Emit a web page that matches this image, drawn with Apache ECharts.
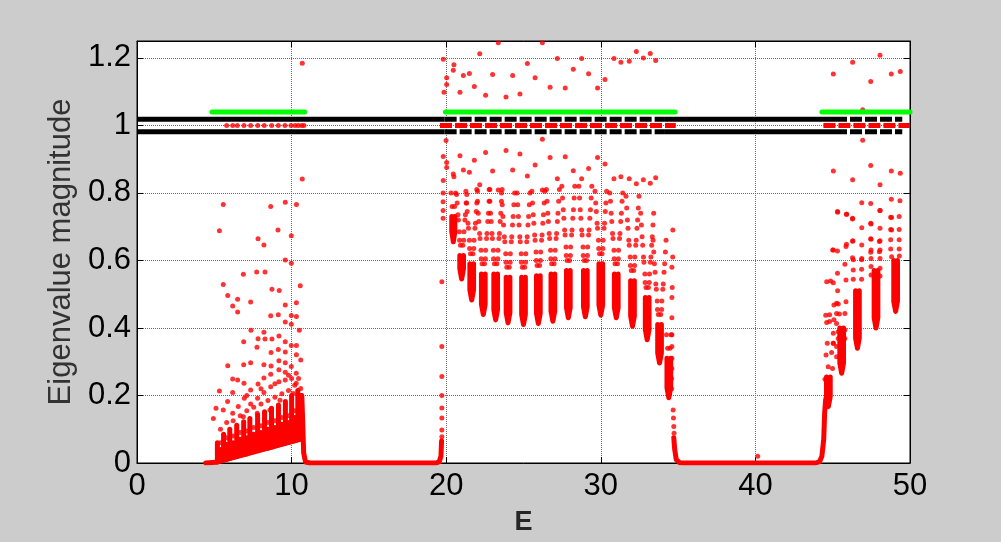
<!DOCTYPE html>
<html>
<head>
<meta charset="utf-8">
<script src="https://cdn.jsdelivr.net/npm/echarts@6/dist/echarts.min.js"></script>
<style>
html,body{margin:0;padding:0;background:#cccccc;}
#chart{width:1001px;height:542px;}
</style>
</head>
<body>
<div id="chart"></div>
<script>
// ---------- axes ----------
const xTickValues = [0, 10, 20, 30, 40, 50];
const yTickValues = [0, 0.2, 0.4, 0.6, 0.8, 1, 1.2];
const xAxisTitle = 'E';
const yAxisTitle = 'Eigenvalue magnitude';

// ---------- reference levels ----------
const greenLevel = 1.04;
const greenSegments = [[4.85, 10.85], [19.95, 34.8], [44.3, 50]];
const blackLevels = [1.018, 0.981];
const blackSolidSegments = [[0, 19.9], [34.15, 45.15]];
const blackDashedSegments = [[19.9, 34.15], [45.15, 49.5]];
const unitLevel = 1.0;
const unitDashedSegments = [[19.6, 34.85], [44.4, 50]];
const unitDotsBand1 = [5.8, 6.19, 6.49, 6.92, 7.35, 7.81, 8.23, 8.71, 9.14, 9.57, 9.96, 10.22, 10.43, 10.65, 10.8];

// ---------- isolated eigenvalue magnitudes [E, |lambda|] ----------
const band1Points = [
 [5.58,0.766],[5.33,0.688],[8.65,0.76],[9.59,0.772],[10.31,0.766],[9.12,0.69],[7.83,0.664],[8.21,0.646],
 [9.98,0.673],[9.59,0.601],[9.98,0.592],[6.88,0.559],[7.74,0.566],[8.28,0.566],[5.58,0.529],[5.87,0.496],
 [6.19,0.465],[6.51,0.485],[6.51,0.447],[7.35,0.477],[8.73,0.515],[9.2,0.511],[8.65,0.436],[9.14,0.439],
 [9.59,0.468],[10.31,0.475],[10.56,0.525],[9.98,0.437],[10.31,0.434],[9.59,0.418],[9.98,0.411],[10.5,0.393],
 [7.37,0.393],[8.21,0.387],[7.83,0.368],[9.18,0.376],[6.9,0.359],[7.76,0.343],[8.28,0.367],[8.73,0.367],
 [9.59,0.359],[9.98,0.348],[10.31,0.348],[10.31,0.321],[8.67,0.327],[9.14,0.336],[9.59,0.329],[10.59,0.305],
 [5.87,0.288],[6.9,0.291],[7.35,0.297],[8.21,0.291],[8.67,0.287],[9.18,0.303],[9.59,0.297],[5.33,0.213],
 [6.19,0.249],[6.51,0.246],[6.92,0.236],[7.35,0.216],[7.83,0.234],[8.21,0.252],[8.65,0.263],[9.18,0.276],
 [9.59,0.269],[4.94,0.132],[5.11,0.162],[5.86,0.182],[6.19,0.209],[6.55,0.167],[6.94,0.192],[7.35,0.175],
 [7.8,0.192],[8.21,0.209],[8.65,0.226],[9.18,0.241],[9.59,0.246],[9.98,0.286],[10.3,0.266],[10.3,0.236],
 [10.59,0.221],[5.58,0.157],[6.19,0.147],[6.88,0.137],[7.78,0.147],[8.6,0.157],[9.25,0.186],[10.11,0.206],
 [10.0,0.25],[10.45,0.25],[10.69,1.184],[10.69,0.841],
 [5.4,0.1],[5.8,0.12],[6.22,0.125],[6.68,0.14],[7.1,0.155],[7.55,0.165],[8.02,0.175],[8.47,0.185],
 [8.92,0.195],[9.37,0.205],[9.8,0.215],[10.2,0.23],[7.1,0.2],[8.02,0.22],[8.92,0.235],[9.8,0.26],
 [5.4,0.06],[5.8,0.075],[6.22,0.08],[6.68,0.09],[7.1,0.095],[7.55,0.105],[8.02,0.11],[8.47,0.12],
 [8.92,0.125],[9.37,0.135],[9.8,0.14],[10.2,0.155]
];

const band2Points = [
 // above the unit circle
 [19.81,1.196],[23.37,1.245],[26.22,1.245],[22.17,1.212],[20.5,1.18],[20.46,1.163],[20.03,1.141],[20.03,1.121],
 [19.86,1.098],[21.11,1.148],[21.5,1.154],[20.89,1.098],[21.82,1.115],[22.55,1.089],[23.0,1.151],[23.87,1.084],
 [24.3,1.148],[24.77,1.093],[25.25,1.183],[25.75,1.141],[26.72,1.113],[27.19,1.198],[27.7,1.111],[28.22,1.166],
 [28.76,1.198],[29.21,1.153],[29.79,1.111],[30.27,1.136],[30.85,1.198],[31.3,1.187],[31.84,1.19],[32.3,1.219],
 [32.75,1.2],[33.2,1.213],[33.55,1.192],
 // just below the unit circle
 [19.99,0.955],[19.81,0.908],[20.03,0.89],[20.03,0.875],[19.81,0.837],[20.46,0.856],[20.5,0.848],[20.89,0.91],
 [21.11,0.868],[21.5,0.861],[21.82,0.897],[22.17,0.824],[22.55,0.92],[23.0,0.865],[23.37,0.809],[23.87,0.926],
 [24.3,0.868],[24.77,0.915],[25.25,0.85],[25.75,0.883],[26.22,0.959],[26.72,0.905],[27.19,0.842],[27.7,0.907],
 [28.22,0.866],[28.76,0.842],[29.21,0.872],[29.79,0.905],[30.27,0.886],[30.85,0.842],[31.3,0.848],[31.84,0.842],
 [32.3,0.827],[32.75,0.839],[33.2,0.829],[33.55,0.845],[26.22,0.809],
 // band edge at E ~ 19.7
 [19.72,0.078],[19.72,0.098],[19.72,0.133],[19.72,0.163],[19.72,0.2],[19.72,0.256],[19.72,0.345],[19.72,0.537],
 [19.8,0.725],[19.8,0.748],[19.8,0.774],[19.8,0.8],
 // lattice above the dips
 [20.38,0.76],[20.54,0.76],[20.31,0.8],[20.61,0.8],
 [20.92,0.645],[21.08,0.645],[20.85,0.685],[21.15,0.685],[20.76,0.735],[21.24,0.735],[20.67,0.795],[21.33,0.795],
 [20.865,0.66],[21.135,0.66],[20.79,0.72],[21.21,0.72],[20.71,0.77],[21.29,0.77],
 [21.57,0.62],[21.73,0.62],[21.5,0.66],[21.8,0.66],[21.41,0.71],[21.89,0.71],[21.32,0.77],[21.98,0.77],
 [21.515,0.635],[21.785,0.635],[21.44,0.695],[21.86,0.695],[21.36,0.745],[21.94,0.745],[21.275,0.805],[22.025,0.805],
 [22.32,0.59],[22.48,0.59],[22.25,0.63],[22.55,0.63],[22.16,0.68],[22.64,0.68],[22.07,0.74],[22.73,0.74],[21.98,0.81],[22.82,0.81],
 [22.265,0.605],[22.535,0.605],[22.19,0.665],[22.61,0.665],[22.11,0.715],[22.69,0.715],[22.025,0.775],[22.775,0.775],
 [23.12,0.59],[23.28,0.59],[23.05,0.63],[23.35,0.63],[22.96,0.68],[23.44,0.68],[22.87,0.74],[23.53,0.74],[22.78,0.81],[23.62,0.81],
 [23.065,0.605],[23.335,0.605],[22.99,0.665],[23.41,0.665],[22.91,0.715],[23.49,0.715],[22.825,0.775],[23.575,0.775],
 [23.92,0.58],[24.08,0.58],[23.85,0.62],[24.15,0.62],[23.76,0.67],[24.24,0.67],[23.67,0.73],[24.33,0.73],[23.58,0.8],[24.42,0.8],
 [23.865,0.595],[24.135,0.595],[23.79,0.655],[24.21,0.655],[23.71,0.705],[24.29,0.705],[23.625,0.765],[24.375,0.765],
 [24.92,0.58],[25.08,0.58],[24.85,0.62],[25.15,0.62],[24.76,0.67],[25.24,0.67],[24.67,0.73],[25.33,0.73],[24.58,0.8],[25.42,0.8],
 [24.865,0.595],[25.135,0.595],[24.79,0.655],[25.21,0.655],[24.71,0.705],[25.29,0.705],[24.625,0.765],[25.375,0.765],
 [25.88,0.585],[26.04,0.585],[25.81,0.625],[26.11,0.625],[25.72,0.675],[26.2,0.675],[25.63,0.735],[26.29,0.735],[25.54,0.805],[26.38,0.805],
 [25.825,0.6],[26.095,0.6],[25.75,0.66],[26.17,0.66],[25.67,0.71],[26.25,0.71],[25.585,0.77],[26.335,0.77],
 [26.82,0.59],[26.98,0.59],[26.75,0.63],[27.05,0.63],[26.66,0.68],[27.14,0.68],[26.57,0.74],[27.23,0.74],[26.48,0.81],[27.32,0.81],
 [26.765,0.605],[27.035,0.605],[26.69,0.665],[27.11,0.665],[26.61,0.715],[27.19,0.715],[26.525,0.775],[27.275,0.775],
 [27.82,0.6],[27.98,0.6],[27.75,0.64],[28.05,0.64],[27.66,0.69],[28.14,0.69],[27.57,0.75],[28.23,0.75],[27.48,0.82],[28.32,0.82],
 [27.765,0.615],[28.035,0.615],[27.69,0.675],[28.11,0.675],[27.61,0.725],[28.19,0.725],[27.525,0.785],[28.275,0.785],
 [28.92,0.6],[29.08,0.6],[28.85,0.64],[29.15,0.64],[28.76,0.69],[29.24,0.69],[28.67,0.75],[29.33,0.75],[28.58,0.82],[29.42,0.82],
 [28.865,0.615],[29.135,0.615],[28.79,0.675],[29.21,0.675],[28.71,0.725],[29.29,0.725],[28.625,0.785],[29.375,0.785],
 [29.92,0.62],[30.08,0.62],[29.85,0.66],[30.15,0.66],[29.76,0.71],[30.24,0.71],[29.67,0.77],[30.33,0.77],
 [29.865,0.635],[30.135,0.635],[29.79,0.695],[30.21,0.695],[29.71,0.745],[30.29,0.745],[29.625,0.805],[30.375,0.805],
 [30.92,0.59],[31.08,0.59],[30.85,0.63],[31.15,0.63],[30.76,0.68],[31.24,0.68],[30.67,0.74],[31.33,0.74],[30.58,0.8],[31.42,0.8],
 [30.865,0.605],[31.135,0.605],[30.79,0.665],[31.21,0.665],[30.71,0.715],[31.29,0.715],[30.625,0.775],[31.375,0.775],
 [31.97,0.57],[32.13,0.57],[31.9,0.61],[32.2,0.61],[31.81,0.66],[32.29,0.66],[31.72,0.72],[32.38,0.72],[31.63,0.79],[32.47,0.79],
 [31.915,0.585],[32.185,0.585],[31.84,0.645],[32.26,0.645],[31.76,0.695],[32.34,0.695],[31.675,0.755],[32.425,0.755],
 [32.92,0.52],[33.08,0.52],[32.85,0.56],[33.15,0.56],[32.76,0.61],[33.24,0.61],[32.67,0.67],[33.33,0.67],[32.58,0.74],[33.42,0.74],
 [32.865,0.535],[33.135,0.535],[32.79,0.595],[33.21,0.595],[32.71,0.645],[33.29,0.645],[32.625,0.705],[33.375,0.705],
 [33.72,0.44],[33.88,0.44],[33.65,0.48],[33.95,0.48],[33.56,0.53],[34.04,0.53],[33.47,0.59],[34.13,0.59],[33.38,0.66],[34.22,0.66],
 [33.665,0.455],[33.935,0.455],[33.59,0.515],[34.01,0.515],[33.51,0.565],[34.09,0.565],[33.425,0.625],[34.175,0.625],
 [34.32,0.34],[34.48,0.34],[34.25,0.38],[34.55,0.38],[34.6,0.43],[34.6,0.49],[34.62,0.52],[34.6,0.58],[34.65,0.61],[34.66,0.69],
 [34.58,0.22],[34.58,0.25],[34.6,0.28],[34.6,0.31],[34.6,0.345],[34.6,0.38],
 // tail down to zero
 [34.68,0.157],[34.7,0.133],[34.72,0.108],[34.74,0.088],
 // small value in the gap
 [40.15,0.02]
];

const band3Points = [
 [48.06,1.208],[46.29,1.187],[45.04,1.152],[48.79,1.152],[49.37,1.16],[47.46,1.13],[46.94,1.046],
 [46.94,0.956],[45.04,0.865],[47.46,0.881],[48.79,0.865],[49.37,0.858],[46.29,0.839],[48.06,0.824],
 [46.88,0.771],[47.46,0.769],[48.79,0.781],[49.35,0.777],[45.31,0.745],[45.89,0.737],[46.28,0.723],[48.06,0.748],
 [48.75,0.728],[49.3,0.73],[46.88,0.697],[47.46,0.71],[48.06,0.695],[45.04,0.631],[45.31,0.628],[45.89,0.648],
 [46.3,0.658],[46.88,0.646],[47.46,0.664],[48.02,0.656],[48.75,0.692],[49.3,0.692],[48.75,0.661],[49.3,0.661],
 [48.75,0.634],[49.3,0.634],[45.79,0.589],[46.28,0.608],[46.88,0.606],[47.46,0.624],[48.02,0.626],[44.86,0.539],
 [45.04,0.534],[45.31,0.562],[45.08,0.468],[44.8,0.439],[44.8,0.419],[45.25,0.473],[45.25,0.443],[45.25,0.413],
 [44.61,0.537],[45.32,0.51],[45.86,0.542],[45.36,0.471],[45.86,0.478],[44.55,0.438],[44.61,0.416],[45.08,0.424],
 [45.43,0.441],[45.79,0.443],[45.04,0.384],[45.79,0.394],[44.65,0.355],[45.04,0.355],[45.36,0.369],[45.79,0.369],
 [46.33,0.572],[46.87,0.574],[45.86,0.641],[46.29,0.657],[45.0,0.631],[45.32,0.743],[45.9,0.737],[46.29,0.725],
 [47.48,0.708],[47.48,0.663],[48.06,0.658],[48.06,0.748],[48.81,0.727],[48.81,0.69],[48.81,0.611],[49.31,0.613],
 [46.33,0.544],[46.87,0.544],[47.48,0.631],[48.06,0.631],[47.48,0.606],[48.06,0.606],[47.48,0.582],[48.06,0.577],
 [47.48,0.557],[48.06,0.554],[46.33,0.602],[46.87,0.602],
 [44.57,0.32],[44.93,0.327],[45.04,0.355],[45.36,0.389],[44.5,0.248],[44.71,0.285],[44.99,0.28],[45.25,0.315],[45.25,0.345]
];

// ---------- dense runs of eigenvalues, read as traces [E, |lambda|] ----------
const band1Traces = [
 [[4.45,0],[5.1,0.002],[10.55,0.07]],
 [[5.2,0.003],[5.2,0.06]],[[5.6,0.008],[5.6,0.085]],[[6.0,0.013],[6.0,0.1]],[[6.45,0.019],[6.45,0.112]],
 [[6.9,0.025],[6.9,0.122]],[[7.3,0.03],[7.3,0.132]],[[7.8,0.036],[7.8,0.142]],[[8.25,0.042],[8.25,0.152]],
 [[8.7,0.047],[8.7,0.162]],[[9.15,0.053],[9.15,0.172]],[[9.6,0.059],[9.6,0.182]],[[10.0,0.064],[10.0,0.2]],
 [[10.4,0.069],[10.4,0.215]],[[10.6,0.07],[10.6,0.2]],
 [[5.4,0.006],[5.4,0.04]],[[5.8,0.011],[5.8,0.055]],[[6.22,0.016],[6.22,0.06]],[[6.68,0.022],[6.68,0.07]],
 [[7.1,0.027],[7.1,0.075]],[[7.55,0.033],[7.55,0.085]],[[8.02,0.039],[8.02,0.09]],[[8.47,0.044],[8.47,0.1]],
 [[8.92,0.05],[8.92,0.105]],[[9.37,0.056],[9.37,0.115]],[[9.8,0.061],[9.8,0.12]],[[10.2,0.066],[10.2,0.135]],
 [[10.66,0.2],[10.72,0.12],[10.78,0.03],[10.9,0.003],[11.2,0],[19.35,0],[19.55,0.004],[19.66,0.02],[19.7,0.065]]
];
const band2Traces = [
 [[20.36,0.73],[20.36,0.685],[20.46,0.655],[20.56,0.685],[20.56,0.73]],
 [[20.88,0.615],[20.88,0.575],[21.0,0.545],[21.12,0.575],[21.12,0.615]],
 [[21.53,0.59],[21.53,0.513],[21.65,0.483],[21.77,0.513],[21.77,0.59]],
 [[22.28,0.56],[22.28,0.47],[22.4,0.44],[22.52,0.47],[22.52,0.56]],
 [[23.08,0.56],[23.08,0.454],[23.2,0.424],[23.32,0.454],[23.32,0.56]],
 [[23.88,0.55],[23.88,0.445],[24.0,0.415],[24.12,0.445],[24.12,0.55]],
 [[24.88,0.55],[24.88,0.44],[25.0,0.41],[25.12,0.44],[25.12,0.55]],
 [[25.84,0.555],[25.84,0.443],[25.96,0.413],[26.08,0.443],[26.08,0.555]],
 [[26.78,0.56],[26.78,0.45],[26.9,0.42],[27.02,0.45],[27.02,0.56]],
 [[27.78,0.57],[27.78,0.46],[27.9,0.43],[28.02,0.46],[28.02,0.57]],
 [[28.88,0.57],[28.88,0.463],[29.0,0.433],[29.12,0.463],[29.12,0.57]],
 [[29.88,0.59],[29.88,0.468],[30.0,0.438],[30.12,0.468],[30.12,0.59]],
 [[30.88,0.56],[30.88,0.46],[31.0,0.43],[31.12,0.46],[31.12,0.56]],
 [[31.93,0.54],[31.93,0.435],[32.05,0.405],[32.17,0.435],[32.17,0.54]],
 [[32.88,0.49],[32.88,0.395],[33.0,0.365],[33.12,0.395],[33.12,0.49]],
 [[33.68,0.41],[33.68,0.326],[33.8,0.296],[33.92,0.326],[33.92,0.41]],
 [[34.28,0.31],[34.28,0.223],[34.4,0.193],[34.52,0.223],[34.52,0.31]],
 [[34.72,0.075],[34.78,0.04],[34.88,0.01],[35.1,0.001],[35.4,0],[43.9,0],[44.15,0.004],[44.3,0.02],[44.42,0.07],[44.48,0.15],[44.55,0.19]]
];
const band3Traces = [
 [[44.6,0.255],[44.6,0.197],[44.72,0.167],[44.84,0.197],[44.84,0.255]],
 [[45.46,0.4],[45.46,0.296],[45.58,0.266],[45.7,0.296],[45.7,0.4]],
 [[46.48,0.51],[46.48,0.37],[46.6,0.34],[46.72,0.37],[46.72,0.51]],
 [[47.68,0.57],[47.68,0.43],[47.8,0.4],[47.92,0.43],[47.92,0.57]],
 [[48.95,0.6],[48.95,0.479],[49.07,0.449],[49.19,0.479],[49.19,0.6]]
];

// ---------- build ----------
const RED = '#ff0000';
const series = [];
const traceStyle = {color: RED, width: 5, cap: 'round', join: 'round'};
[].concat(band1Traces, band2Traces, band3Traces).forEach(tr => {
  series.push({type: 'line', data: tr, showSymbol: false, symbol: 'none', silent: true,
    lineStyle: traceStyle, z: 2});
});
series.push({type: 'scatter', data: [].concat(band1Points, band2Points, band3Points),
  symbol: 'circle', symbolSize: 5, itemStyle: {color: RED}, silent: true, z: 3});
series.push({type: 'scatter', data: unitDotsBand1.map(e => [e, unitLevel]),
  symbol: 'circle', symbolSize: 5, itemStyle: {color: RED}, silent: true, z: 3});
unitDashedSegments.forEach(s => series.push({type: 'line', symbol: 'none', silent: true, z: 4,
  data: [[s[0], unitLevel], [s[1], unitLevel]],
  lineStyle: {color: RED, width: 5, type: [12, 3], cap: 'butt'}}));
blackLevels.forEach(lv => {
  blackSolidSegments.forEach(s => series.push({type: 'line', symbol: 'none', silent: true, z: 5,
    data: [[s[0], lv], [s[1], lv]], lineStyle: {color: '#000', width: 5}}));
  blackDashedSegments.forEach(s => series.push({type: 'line', symbol: 'none', silent: true, z: 5,
    data: [[s[0], lv], [s[1], lv]], lineStyle: {color: '#000', width: 5, type: [12, 3], cap: 'butt'}}));
});
greenSegments.forEach(s => series.push({type: 'line', symbol: 'none', silent: true, z: 6,
  data: [[s[0], greenLevel], [s[1], greenLevel]],
  lineStyle: {color: '#00ff00', width: 5, cap: 'round'}}));

const FONT = 'Liberation Sans, Arial, sans-serif';
const gridLine = {show: true, lineStyle: {color: '#6e6e6e', type: 'dotted', width: 1}};
const xMin = xTickValues[0], xMax = xTickValues[xTickValues.length - 1];
const xStep = xTickValues[1] - xTickValues[0];
const yStep = 0.2;

const option = {
  animation: false,
  backgroundColor: '#cccccc',
  grid: {left: 137, right: 91, top: 41, bottom: 79, show: true, backgroundColor: '#ffffff',
    borderColor: '#000', borderWidth: 1},
  xAxis: [
    {type: 'value', min: xMin, max: xMax, interval: xStep, position: 'bottom',
      axisLine: {show: true, onZero: false, lineStyle: {color: '#000', width: 1}},
      axisTick: {show: true, inside: true, length: 6, lineStyle: {color: '#000'}},
      axisLabel: {color: '#000', fontSize: 31, fontFamily: FONT, margin: 8},
      splitLine: gridLine,
      name: xAxisTitle, nameLocation: 'middle', nameGap: 46,
      nameTextStyle: {color: '#262626', fontSize: 27, fontWeight: 'bold', fontFamily: FONT}},
    {type: 'value', min: xMin, max: xMax, interval: xStep, position: 'top',
      axisLine: {show: true, onZero: false, lineStyle: {color: '#000'}},
      axisTick: {show: true, inside: true, length: 6, lineStyle: {color: '#000'}},
      axisLabel: {show: false}, splitLine: {show: false}}
  ],
  yAxis: [
    {type: 'value', min: 0, max: 1.25, interval: yStep, position: 'left',
      axisLine: {show: true, onZero: false, lineStyle: {color: '#000'}},
      axisTick: {show: true, inside: true, length: 6, lineStyle: {color: '#000'}},
      axisLabel: {color: '#000', fontSize: 31, fontFamily: FONT, margin: 6,
        formatter: v => (yTickValues.some(t => Math.abs(t - v) < 1e-9) ? String(+v.toFixed(1)) : '')},
      splitLine: gridLine,
      name: yAxisTitle, nameLocation: 'middle', nameGap: 56, nameRotate: 90,
      nameTextStyle: {color: '#333333', fontSize: 31, fontFamily: FONT}},
    {type: 'value', min: 0, max: 1.25, interval: yStep, position: 'right',
      axisLine: {show: true, onZero: false, lineStyle: {color: '#000'}},
      axisTick: {show: true, inside: true, length: 6, lineStyle: {color: '#000'}},
      axisLabel: {show: false}, splitLine: {show: false}}
  ],
  series: series
};
const chart = echarts.init(document.getElementById('chart'), null, {renderer: 'canvas'});
chart.setOption(option);
</script>
</body>
</html>
